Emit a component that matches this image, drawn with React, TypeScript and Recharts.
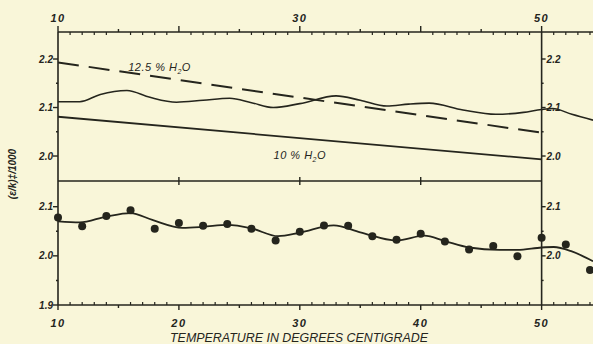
import React from 'react';
import { ComposedChart, Line, XAxis, YAxis, ReferenceLine, ReferenceDot } from 'recharts';

const INK = '#25251d';
const PAPER = '#f9f6d9';
const FONT = '"Liberation Sans", Arial, sans-serif';

// temperature axis (deg C)
const X_DOMAIN = [10, 54.25];
const UPPER_DOMAIN = [1.9485, 2.2557];
const LOWER_DOMAIN = [1.9, 2.1523];

// straight lines, upper panel
const straightTemps = [10, 50];
const water125Values = [2.193, 2.048];
const water10Values = [2.081, 1.993];

// wavy curve, upper panel
const upperTemps = [10, 11.8, 13.5, 15.7, 17.6, 19.8, 22, 24.2, 26, 27.8, 30, 33, 35, 37.2, 39, 40.7, 43.5, 46.2, 48.5, 50, 50.9, 52.5, 54.25];
const upperValues = [2.112, 2.112, 2.127, 2.135, 2.121, 2.111, 2.115, 2.119, 2.11, 2.1, 2.108, 2.124, 2.115, 2.103, 2.107, 2.109, 2.095, 2.086, 2.09, 2.096, 2.098, 2.086, 2.074];

// smooth curve, lower panel
const lowerTemps = [10, 11.8, 14, 16, 17.8, 20.3, 22, 24, 26, 28.2, 30, 32.8, 35, 38, 40.3, 42, 44, 46.5, 48, 50, 51, 52.5, 54.25];
const lowerValues = [2.07, 2.068, 2.08, 2.087, 2.073, 2.057, 2.059, 2.063, 2.056, 2.04, 2.047, 2.062, 2.048, 2.031, 2.041, 2.03, 2.017, 2.012, 2.012, 2.017, 2.018, 2.009, 1.989];

// measured points, lower panel
const pointTemps = [10, 12, 14, 16, 18, 20, 22, 24, 26, 28, 30, 32, 34, 36, 38, 40, 42, 44, 46, 48, 50, 52, 54];
const pointValues = [2.078, 2.06, 2.081, 2.093, 2.055, 2.067, 2.061, 2.065, 2.055, 2.031, 2.049, 2.062, 2.061, 2.04, 2.033, 2.045, 2.029, 2.013, 2.02, 1.999, 2.037, 2.023, 1.971];

// ticks
const xTicks = Array.from({ length: 45 }, (_, i) => 10 + i);
const topLabels = [10, 30, 50];
const bottomLabels = [10, 20, 30, 40, 50];
const middleTicks = [20, 30, 40];
const upperTicks = [2.0, 2.05, 2.1, 2.15, 2.2];
const upperLabels = [2.0, 2.1, 2.2];
const lowerTicks = [1.9, 1.95, 2.0, 2.05, 2.1];
const lowerLabels = [1.9, 2.0, 2.1];
const upperRightTicks = [2.0, 2.05, 2.1, 2.15, 2.2];
const lowerRightTicks = [1.95, 2.0, 2.05, 2.1];
const lowerRightLabels = [2.0, 2.1];

const zip = (ts: number[], vs: number[]) => ts.map((t, i) => ({ t, v: vs[i] }));

const water125 = zip(straightTemps, water125Values);
const water10 = zip(straightTemps, water10Values);
const upperCurve = zip(upperTemps, upperValues);
const lowerCurve = zip(lowerTemps, lowerValues);
const points = zip(pointTemps, pointValues);

const numStyle = { fontFamily: FONT, fontStyle: 'italic', fontWeight: 700, fill: INK } as const;

const TopTick = (props: any) => {
  const { x, y, payload } = props;
  const v = payload.value;
  const mid = v % 5 === 0;
  const major = v % 10 === 0;
  return (
    <g>
      {mid ? (
        <line x1={x} x2={x} y1={y} y2={y - (major ? 6 : 3)} stroke={INK} strokeWidth={1.4} />
      ) : (
        <line x1={x} x2={x} y1={y} y2={y + 3} stroke={INK} strokeWidth={1.2} />
      )}
      {topLabels.includes(v) && (
        <text x={x} y={y - 10} textAnchor="middle" fontSize={11} letterSpacing={1.5} {...numStyle}>{v}</text>
      )}
    </g>
  );
};

const BottomTick = (props: any) => {
  const { x, y, payload } = props;
  const v = payload.value;
  const mid = v % 5 === 0;
  const major = v % 10 === 0;
  return (
    <g>
      {mid ? (
        <line x1={x} x2={x} y1={y} y2={y + (major ? 5 : 3)} stroke={INK} strokeWidth={1.4} />
      ) : (
        <line x1={x} x2={x} y1={y} y2={y - 3} stroke={INK} strokeWidth={1.2} />
      )}
      {bottomLabels.includes(v) && (
        <text x={x} y={y + 22} textAnchor="middle" fontSize={11} letterSpacing={1.5} {...numStyle}>{v}</text>
      )}
    </g>
  );
};

const makeLeftTick = (labels: number[]) => (props: any) => {
  const { x, y, payload } = props;
  const v = payload.value;
  const major = labels.includes(v);
  return (
    <g>
      <line x1={x - (major ? 5 : 2)} x2={x} y1={y} y2={y} stroke={INK} strokeWidth={1.4} />
      {major && (
        <text x={x - 5} y={y + 3.5} textAnchor="end" fontSize={10} {...numStyle}>{v.toFixed(1)}</text>
      )}
    </g>
  );
};

const rightMark = (v: number, labelled: boolean) => (p: any) => {
  const vb = p.viewBox || {};
  const cx = vb.x + (vb.width || 0) / 2;
  const cy = vb.y + (vb.height || 0) / 2;
  return (
    <g>
      <line x1={cx} x2={cx + (labelled ? 4 : 2)} y1={cy} y2={cy} stroke={INK} strokeWidth={1.4} />
      {labelled && (
        <text x={cx + 5} y={cy + 3.5} fontSize={10} {...numStyle}>{v.toFixed(1)}</text>
      )}
    </g>
  );
};

const waterLabel = (pct: string) => (p: any) => {
  const vb = p.viewBox || {};
  const cx = vb.x + (vb.width || 0) / 2;
  const cy = vb.y + (vb.height || 0) / 2;
  return (
    <text x={cx} y={cy + 4} textAnchor="middle" fontSize={11} letterSpacing={0.5} {...numStyle} fontWeight={400}>
      {pct} % H<tspan dy={3} fontSize={7}>2</tspan><tspan dy={-3}>O</tspan>
    </text>
  );
};

const YTitle = (p: any) => {
  const vb = p.viewBox || { x: 57, y: 32 };
  const x = vb.x - 41;
  const y = vb.y + 142;
  return (
    <text x={x} y={y} transform={`rotate(-90 ${x} ${y})`} textAnchor="middle" fontSize={10} {...numStyle}>
      (ε/k)‡/1000
    </text>
  );
};

const XTitle = (p: any) => {
  const vb = p.viewBox || { x: 58, y: 305 };
  return (
    <text x={vb.x + 241} y={vb.y + 37} textAnchor="middle" fontSize={13} textLength={258} lengthAdjust="spacingAndGlyphs"
      fontFamily={FONT} fontStyle="italic" fill={INK}>
      TEMPERATURE IN DEGREES CENTIGRADE
    </text>
  );
};

const W = 593;
const H = 344;
const axisLine = { stroke: INK, strokeWidth: 1.6 };

export default function App() {
  return (
    <div style={{ position: 'absolute', left: 0, top: 0, width: W, height: H, background: PAPER, overflow: 'hidden' }}>
      <div style={{ position: 'absolute', left: 0, top: 0 }}>
        <ComposedChart width={W} height={H} margin={{ top: 31, right: 0, bottom: H - 181, left: 57 }}>
          <XAxis
            xAxisId="t" orientation="top" type="number" dataKey="t" domain={X_DOMAIN} allowDataOverflow
            ticks={xTicks} interval={0} height={1} tickSize={0} tickMargin={0} tickLine={false}
            axisLine={axisLine} tick={(p: any) => <TopTick {...p} />}
          />
          <YAxis
            yAxisId="u" type="number" dataKey="v" domain={UPPER_DOMAIN} allowDataOverflow
            ticks={upperTicks} interval={0} width={1} tickSize={0} tickMargin={0} tickLine={false}
            axisLine={axisLine} tick={makeLeftTick(upperLabels)} label={{ content: YTitle }}
          />
          <ReferenceLine xAxisId="t" yAxisId="u" x={50} stroke={INK} strokeWidth={1.6} ifOverflow="visible" />
          <ReferenceLine
            xAxisId="t" yAxisId="u" ifOverflow="visible" stroke={INK} strokeWidth={1.4}
            segment={[{ x: 10, y: UPPER_DOMAIN[0] }, { x: 50, y: UPPER_DOMAIN[0] }]}
          />
          {middleTicks.map((t) => (
            <ReferenceLine
              key={t} xAxisId="t" yAxisId="u" ifOverflow="visible" stroke={INK} strokeWidth={1.4}
              segment={[{ x: t, y: UPPER_DOMAIN[0] - 0.008 }, { x: t, y: UPPER_DOMAIN[0] + 0.008 }]}
            />
          ))}
          {upperRightTicks.map((v) => (
            <ReferenceDot
              key={v} xAxisId="t" yAxisId="u" x={50} y={v} r={0} fill="none" stroke="none"
              label={rightMark(v, upperLabels.includes(v))}
            />
          ))}
          <ReferenceDot xAxisId="t" yAxisId="u" x={18.4} y={2.1835} r={0} fill="none" stroke="none" label={waterLabel('12.5')} />
          <ReferenceDot xAxisId="t" yAxisId="u" x={30} y={2.002} r={0} fill="none" stroke="none" label={waterLabel('10')} />
          <Line
            xAxisId="t" yAxisId="u" data={water125} dataKey="v" type="linear" stroke={INK} strokeWidth={2}
            strokeDasharray="21 10" dot={false} activeDot={false} isAnimationActive={false}
          />
          <Line
            xAxisId="t" yAxisId="u" data={water10} dataKey="v" type="linear" stroke={INK} strokeWidth={1.8}
            dot={false} activeDot={false} isAnimationActive={false}
          />
          <Line
            xAxisId="t" yAxisId="u" data={upperCurve} dataKey="v" type="monotone" stroke={INK} strokeWidth={1.6}
            dot={false} activeDot={false} isAnimationActive={false}
          />
        </ComposedChart>
      </div>
      <div style={{ position: 'absolute', left: 0, top: 0 }}>
        <ComposedChart width={W} height={H} margin={{ top: 181, right: 0, bottom: H - 306, left: 57 }}>
          <XAxis
            xAxisId="t" orientation="bottom" type="number" dataKey="t" domain={X_DOMAIN} allowDataOverflow
            ticks={xTicks} interval={0} height={1} tickSize={0} tickMargin={0} tickLine={false}
            axisLine={axisLine} tick={(p: any) => <BottomTick {...p} />} label={{ content: XTitle }}
          />
          <YAxis
            yAxisId="l" type="number" dataKey="v" domain={LOWER_DOMAIN} allowDataOverflow
            ticks={lowerTicks} interval={0} width={1} tickSize={0} tickMargin={0} tickLine={false}
            axisLine={axisLine} tick={makeLeftTick(lowerLabels)}
          />
          <ReferenceLine xAxisId="t" yAxisId="l" x={50} stroke={INK} strokeWidth={1.6} ifOverflow="visible" />
          {lowerRightTicks.map((v) => (
            <ReferenceDot
              key={v} xAxisId="t" yAxisId="l" x={50} y={v} r={0} fill="none" stroke="none"
              label={rightMark(v, lowerRightLabels.includes(v))}
            />
          ))}
          <Line
            xAxisId="t" yAxisId="l" data={lowerCurve} dataKey="v" type="monotone" stroke={INK} strokeWidth={1.8}
            dot={false} activeDot={false} isAnimationActive={false}
          />
          <Line
            xAxisId="t" yAxisId="l" data={points} dataKey="v" stroke="none"
            dot={{ r: 4, fill: INK, stroke: 'none', clipDot: false } as any} activeDot={false} isAnimationActive={false}
          />
        </ComposedChart>
      </div>
    </div>
  );
}
